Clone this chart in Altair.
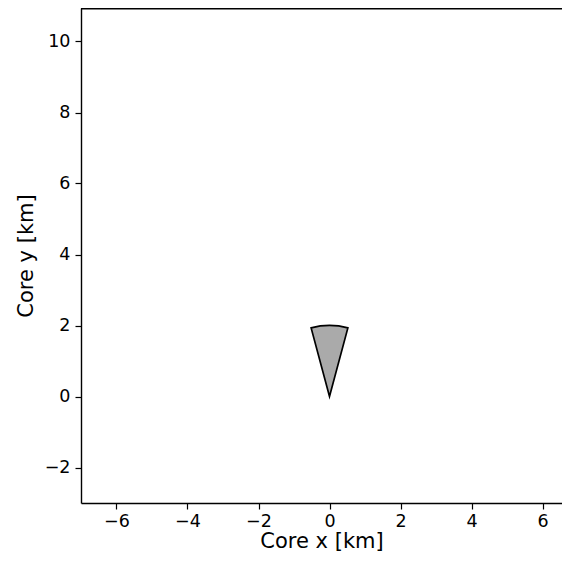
import altair as alt
import pandas as pd
import math

# wedge (sector) data: apex at origin, radius in km, angular extent in degrees (0 = +y axis, clockwise)
apex_x = [0.0]
apex_y = [0.0]
radius_km = [2.0]
theta_start_deg = [-15.0]
theta_end_deg = [15.0]

x_ticks = [-6, -4, -2, 0, 2, 4, 6]
y_ticks = [-2, 0, 2, 4, 6, 8, 10]

df = pd.DataFrame({
    "x": apex_x,
    "y": apex_y,
    "r": radius_km,
    "t0": [math.radians(v) for v in theta_start_deg],
    "t1": [math.radians(v) for v in theta_end_deg],
})

PX = 35.5          # pixels per km
LEFT = 73          # padding so that plot's left edge sits at x=81
W = 554 - LEFT     # keep svg within the page width
H = 495
x_max = -7 + W / PX
y_max = -3 + H / PX

FONT = "DejaVu Sans"
minus = "replace(datum.label, '-', '−')"

wedge = alt.Chart(df).mark_arc(
    fill="#aaaaaa", stroke="black", strokeWidth=1.7, strokeJoin="miter"
).encode(
    x=alt.X("x:Q", scale=alt.Scale(domain=[-7, x_max], nice=False, zero=False),
            axis=alt.Axis(values=x_ticks, title="Core x [km]", labelExpr=minus)),
    y=alt.Y("y:Q", scale=alt.Scale(domain=[-3, y_max], nice=False, zero=False),
            axis=alt.Axis(values=y_ticks, title="Core y [km]", labelExpr=minus)),
    radius=alt.Radius("r:Q", scale=alt.Scale(type="linear", domain=[0, 2], range=[0, 2 * PX], zero=True)),
    theta=alt.Theta("t0:Q", scale=None),
    theta2=alt.Theta2("t1:Q"),
)

top_frame = alt.Chart(df).mark_rule(color="black", strokeWidth=1.4).encode(
    x=alt.value(0), x2=alt.value(W + 10), y=alt.value(0.7)
)

chart = alt.layer(wedge, top_frame).properties(
    width=W, height=H,
    autosize=alt.AutoSizeParams(type="none"),
    padding={"left": LEFT, "top": 0, "right": 0, "bottom": 53},
).configure_view(
    strokeWidth=0, stroke="transparent"
).configure_axis(
    grid=False,
    domain=True, domainColor="black", domainWidth=1.4,
    tickColor="black", tickSize=6, tickWidth=1.2,
    labelColor="black", labelFont=FONT, labelFontSize=17.5,
    titleColor="black", titleFont=FONT, titleFontSize=21, titleFontWeight="normal",
).configure_axisX(
    labelPadding=3, titlePadding=1,
).configure_axisY(
    labelPadding=5, titlePadding=8,
)

chart.save("out.html", embed_options={"renderer": "svg", "actions": False})
